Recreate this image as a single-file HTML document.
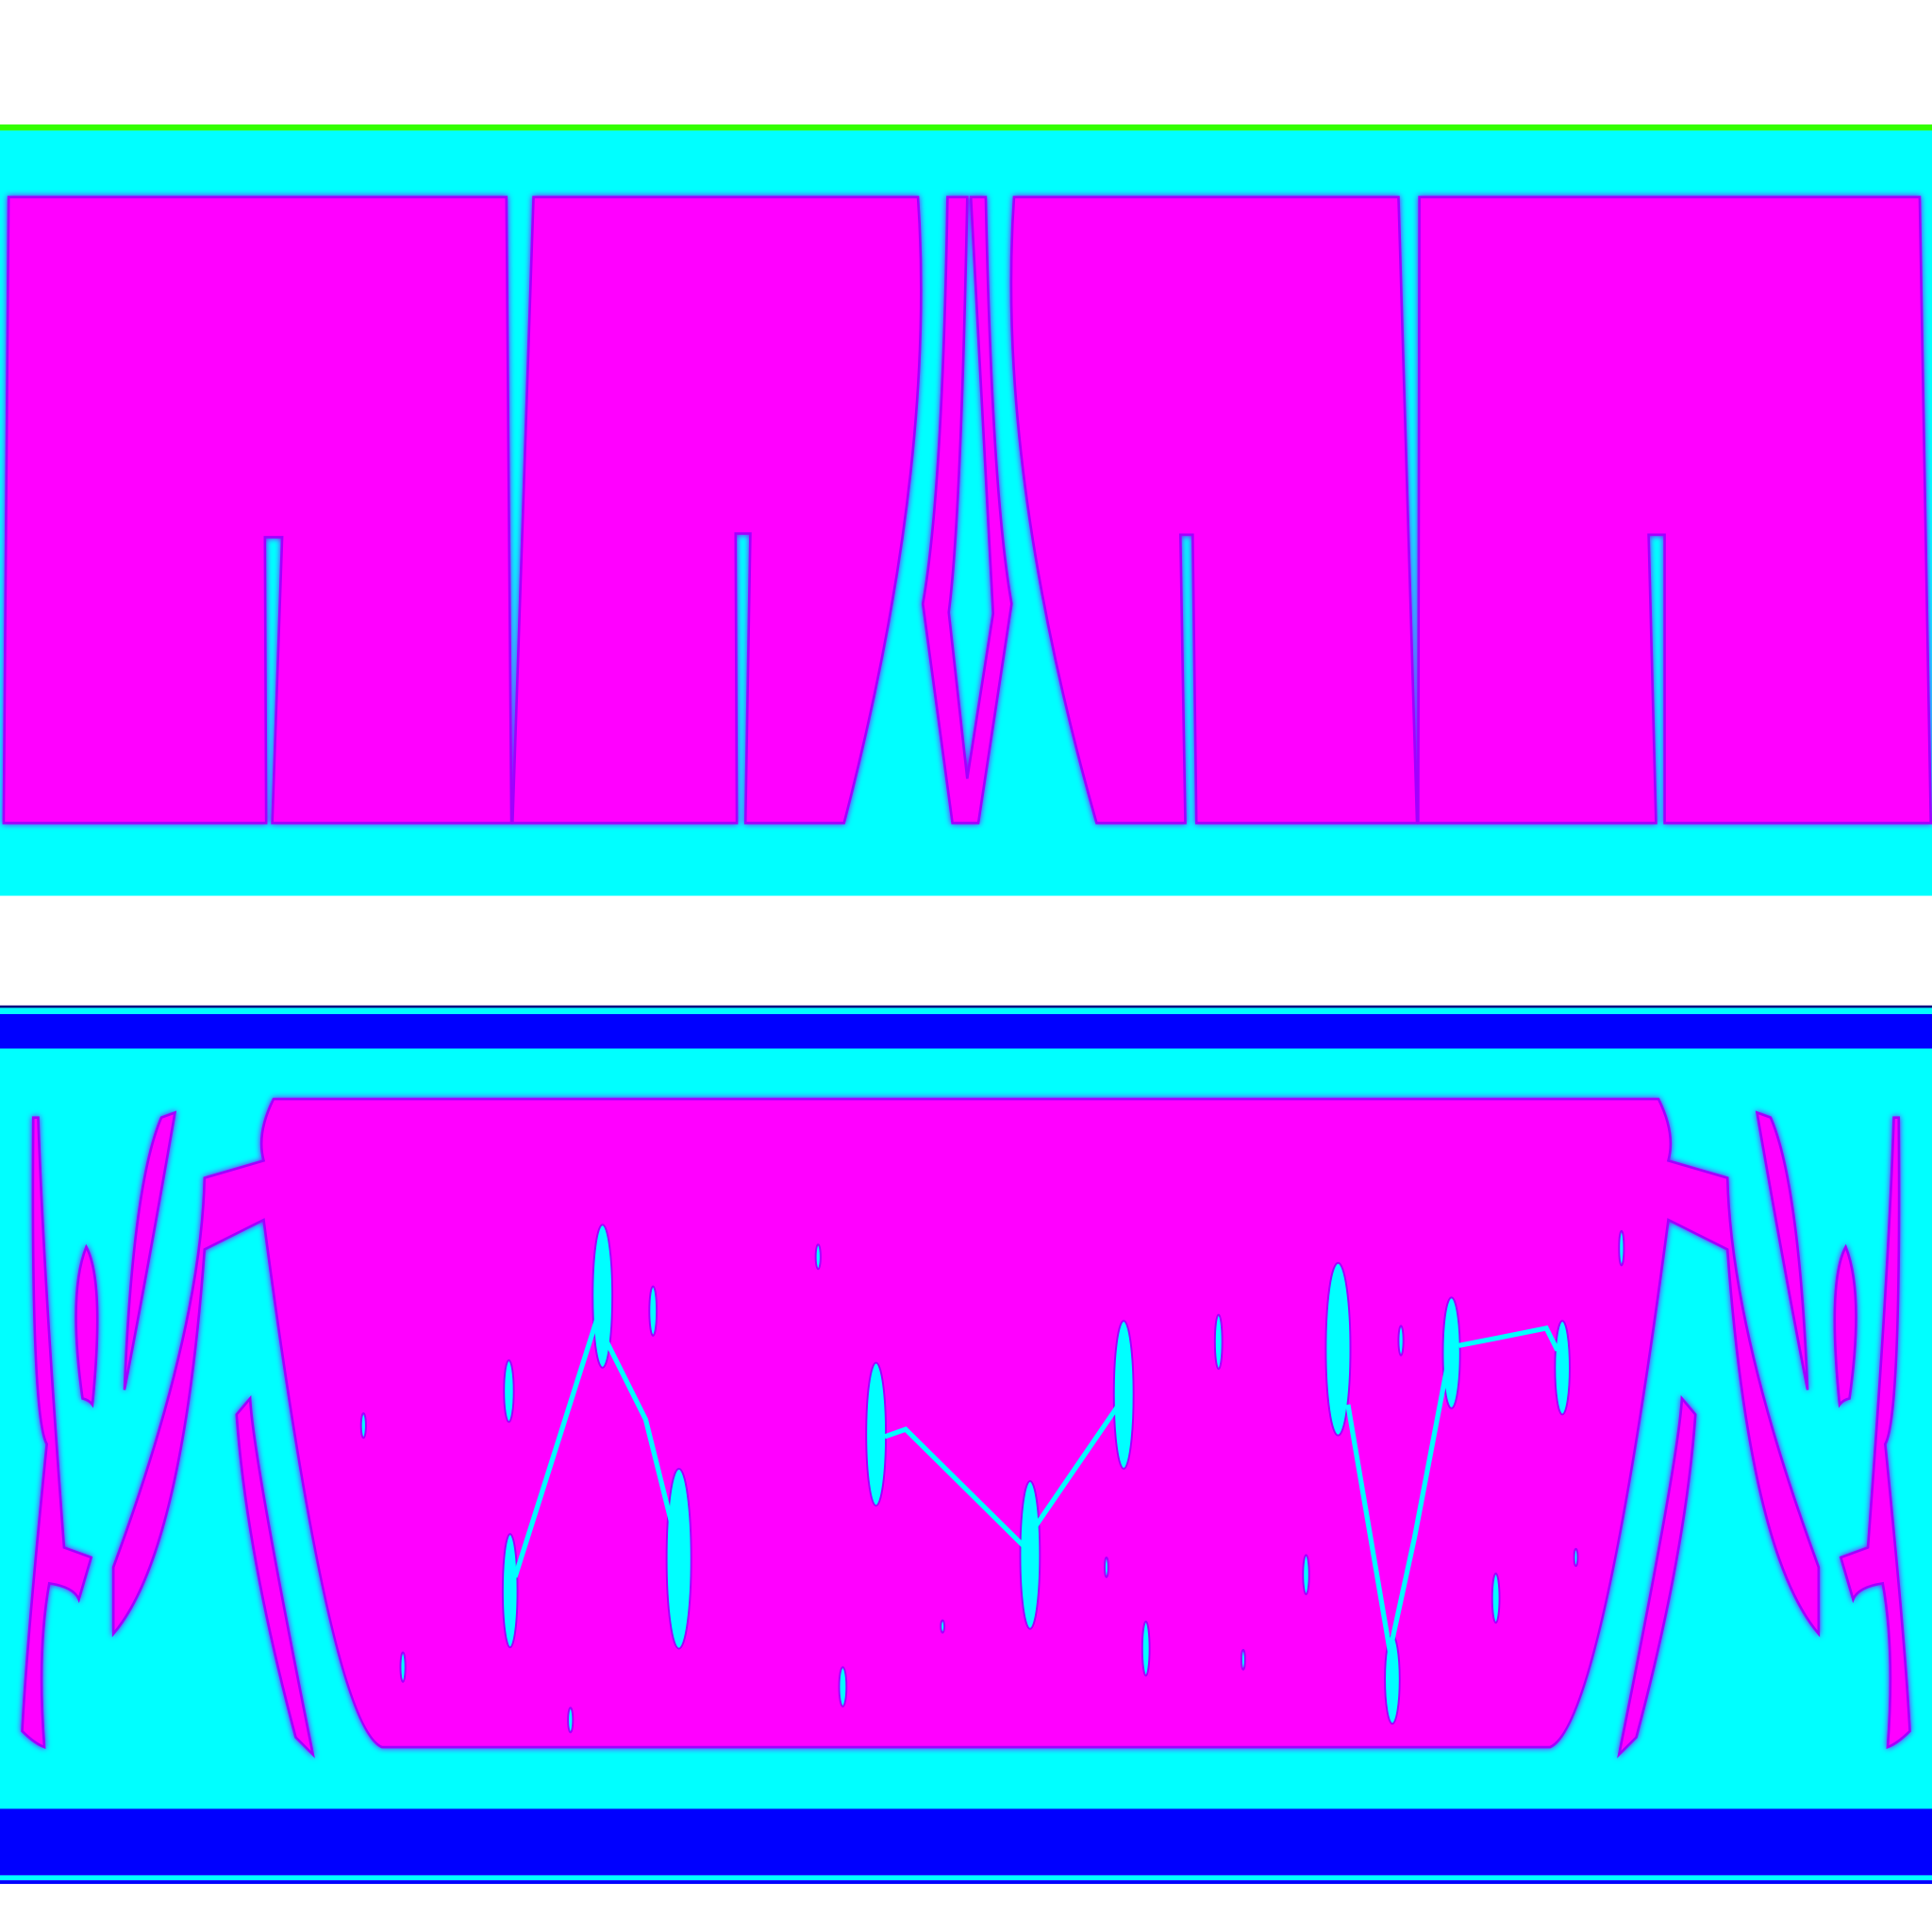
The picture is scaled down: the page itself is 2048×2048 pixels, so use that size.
<!DOCTYPE html>
<html><head><meta charset="utf-8"><style>
html,body{margin:0;padding:0;background:#fff;}
svg{display:block;}
</style></head><body>
<svg width="2048" height="2048" viewBox="0 0 1568 1568" xmlns="http://www.w3.org/2000/svg">
<defs>
<filter id="glow" x="-5%" y="-5%" width="110%" height="110%">
<feGaussianBlur in="SourceAlpha" stdDeviation="2.5" result="b"/>
<feFlood flood-color="#9a00ff"/><feComposite in2="b" operator="in" result="g"/>
<feMerge><feMergeNode in="g"/><feMergeNode in="SourceGraphic"/></feMerge>
</filter>
</defs>
<rect width="1568" height="1568" fill="#fff"/>
<!-- top panel -->
<g>
<rect x="0" y="101" width="1568" height="5" fill="#33ff00"/>
<rect x="0" y="106" width="1568" height="621" fill="#00ffff"/>
<g fill="#ff00ff" stroke="#a000ff" stroke-width="2" filter="url(#glow)">
<path d="M7,160 L411,160 L415,668 L221,668 L229,436 L215,436 L216,668 L3,668 Z"/>
<path d="M433,160 L745,160 Q760,380 685,668 L605,668 L609,433 L597,433 L598,668 L416,668 Z"/>
<path d="M769,160 L785,160 Q780,420 770,497 L785,632 L806,498 L788,160 L800,160 Q805,400 821,490 L794,668 L773,668 L749,490 Q765,400 769,160 Z"/>
<path d="M823,160 L1135,160 L1150,668 L971,668 L968,434 L958,434 L962,668 L890,668 Q808,380 823,160 Z"/>
<path d="M1152,160 L1558,160 L1567,668 L1351,668 L1351,434 L1338,434 L1344,668 L1151,668 Z"/>
</g>
</g>
<!-- bottom panel -->
<g>
<rect x="0" y="816" width="1568" height="2" fill="#000080"/>
<rect x="0" y="818" width="1568" height="5" fill="#00ffff"/>
<rect x="0" y="823" width="1568" height="28" fill="#0000ff"/>
<rect x="0" y="851" width="1568" height="618" fill="#00ffff"/>
<rect x="0" y="1468" width="1568" height="54" fill="#0000ff"/>
<rect x="0" y="1522" width="1568" height="4" fill="#00ffff"/>
<rect x="0" y="1526" width="1568" height="3" fill="#0000ff"/>
<g fill="#ff00ff" stroke="#a000ff" stroke-width="2" filter="url(#glow)">
<path d="M222,892 L1346,892 Q1360,920 1354,942 L1402,956 Q1405,1080 1476,1272 L1476,1326 Q1420,1260 1402,1014 L1354,990 Q1300,1400 1258,1418 L310,1418 Q268,1400 214,990 L166,1014 Q148,1260 92,1326 L92,1272 Q163,1080 166,956 L214,942 Q208,920 222,892 Z"/>
<path d="M27,907 L31,907 Q35,1030 52,1256 L74,1264 L64,1298 Q60,1288 40,1285 Q30,1340 36,1418 Q28,1415 18,1405 Q22,1330 38,1172 Q25,1150 27,907 Z"/>
<path d="M131,907 L142,903 Q120,1030 101,1128 Q108,960 131,907 Z"/>
<path d="M70,1012 Q85,1040 75,1140 Q72,1136 67,1135 Q55,1050 70,1012 Z"/>
<path d="M192,1148 L203,1135 Q205,1180 254,1424 L240,1410 Q200,1260 192,1148 Z"/>
<path d="M1541,907 L1537,907 Q1533,1030 1516,1256 L1494,1264 L1504,1298 Q1508,1288 1528,1285 Q1538,1340 1532,1418 Q1540,1415 1550,1405 Q1546,1330 1530,1172 Q1543,1150 1541,907 Z"/>
<path d="M1437,907 L1426,903 Q1448,1030 1467,1128 Q1460,960 1437,907 Z"/>
<path d="M1498,1012 Q1483,1040 1493,1140 Q1496,1136 1501,1135 Q1513,1050 1498,1012 Z"/>
<path d="M1376,1148 L1365,1135 Q1363,1180 1314,1424 L1328,1410 Q1368,1260 1376,1148 Z"/>
</g>
<g fill="#00ffff" stroke="#a000ff" stroke-width="1.5">
<ellipse cx="489" cy="1052" rx="8" ry="58"/>
<ellipse cx="530" cy="1064" rx="3" ry="20"/>
<ellipse cx="413" cy="1129" rx="4" ry="25"/>
<ellipse cx="414" cy="1291" rx="6" ry="46"/>
<ellipse cx="551" cy="1265" rx="10" ry="73"/>
<ellipse cx="711" cy="1164" rx="8" ry="58"/>
<ellipse cx="836" cy="1262" rx="8" ry="60"/>
<ellipse cx="912" cy="1132" rx="8" ry="60"/>
<ellipse cx="1086" cy="1095" rx="10" ry="70"/>
<ellipse cx="1178" cy="1098" rx="7" ry="45"/>
<ellipse cx="1268" cy="1110" rx="6" ry="38"/>
<ellipse cx="1130" cy="1363" rx="6" ry="36"/>
<ellipse cx="989" cy="1089" rx="3" ry="22"/>
<ellipse cx="664" cy="1020" rx="2" ry="10"/>
<ellipse cx="1316" cy="1013" rx="2" ry="14"/>
<ellipse cx="1137" cy="1088" rx="2" ry="12"/>
<ellipse cx="295" cy="1157" rx="2" ry="10"/>
<ellipse cx="327" cy="1353" rx="2" ry="12"/>
<ellipse cx="463" cy="1396" rx="2" ry="10"/>
<ellipse cx="684" cy="1369" rx="3" ry="16"/>
<ellipse cx="765" cy="1320" rx="1.5" ry="5"/>
<ellipse cx="898" cy="1272" rx="1.5" ry="8"/>
<ellipse cx="930" cy="1338" rx="3" ry="22"/>
<ellipse cx="1009" cy="1347" rx="1.5" ry="8"/>
<ellipse cx="1060" cy="1278" rx="2.5" ry="16"/>
<ellipse cx="1214" cy="1297" rx="3" ry="20"/>
<ellipse cx="1279" cy="1264" rx="1.5" ry="7"/>
</g>
<g fill="none" stroke="#00ffff" stroke-width="4">
<path d="M418,1280 L484,1072 L524,1152 L546,1240"/>
<path d="M718,1166 L735,1160 L830,1254 L908,1140"/>
<path d="M1094,1140 L1128,1340 L1148,1248 L1174,1112"/>
<path d="M1184,1092 L1215,1086 L1255,1078 L1264,1096"/>
</g>
</g>
</svg>
</body></html>
